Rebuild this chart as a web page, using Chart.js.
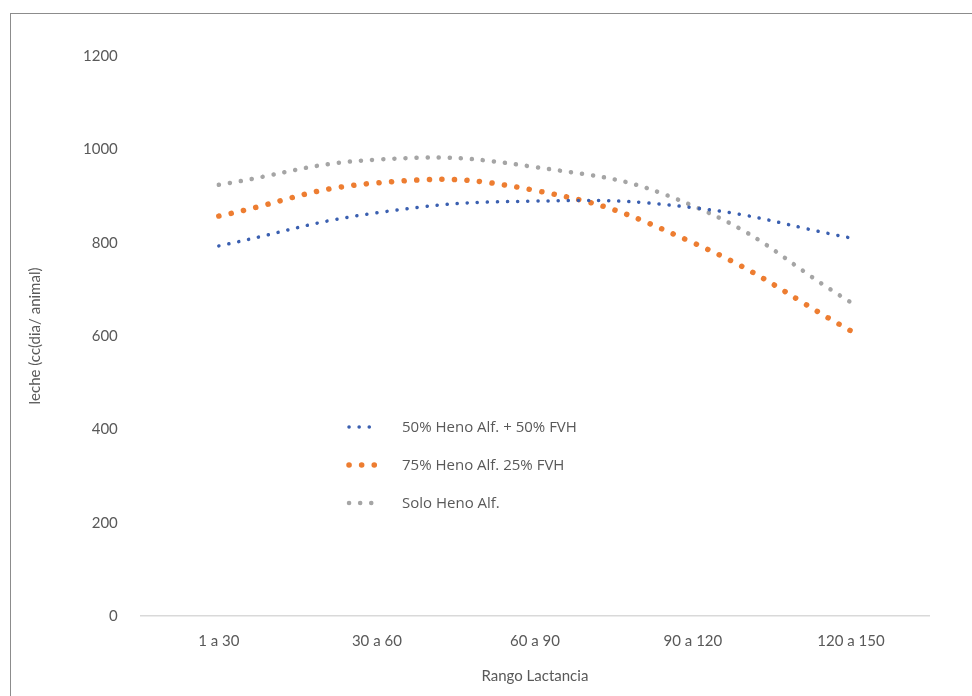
<!DOCTYPE html>
<html>
<head>
<meta charset="utf-8">
<script src="https://cdn.jsdelivr.net/npm/chart.js@4"></script>
<style>
  html, body { margin: 0; padding: 0; background: #fff; }
  #frame { position: absolute; left: 10px; top: 13px; width: 1000px; height: 720px; border: 1px solid #8c8c8c; }
  #wrap { position: absolute; left: 0; top: 0; width: 972px; height: 696px; }
</style>
</head>
<body>
<div id="frame"></div>
<div id="wrap"><canvas id="lecheChart"></canvas></div>
<script>
// rangos de lactancia y leche (cc/dia/animal)
const rangos = ['1 a 30', '30 a 60', '60 a 90', '90 a 120', '120 a 150'];
const mezcla50 = [793, 864, 889, 875, 810];
const mezcla75 = [857, 928, 912, 800, 611];
const soloHeno = [924, 978, 962, 879, 672];
const yTicks = [0, 200, 400, 600, 800, 1000, 1200];

const series = [
    { label: '50% Heno Alf. + 50% FVH', data: mezcla50, color: '#3a5fb0', width: 3.5, gap: 10 },
    { label: '75% Heno Alf. 25% FVH', data: mezcla75, color: '#ed7d31', width: 5.5, gap: 12.5 },
    { label: 'Solo Heno Alf.', data: soloHeno, color: '#a5a5a5', width: 4.5, gap: 11 }
];

// leyenda dibujada dentro del area del grafico
const innerLegend = {
    id: 'innerLegend',
    afterDraw(chart) {
        const ctx = chart.ctx;
        const x0 = 349, y0 = 427, step = 38;
        ctx.save();
        series.forEach((s, i) => {
            const y = y0 + i * step;
            ctx.strokeStyle = s.color;
            ctx.lineWidth = s.width;
            ctx.lineCap = 'round';
            ctx.setLineDash([0.1, s.gap]);
            ctx.beginPath();
            ctx.moveTo(x0, y);
            ctx.lineTo(x0 + 28, y);
            ctx.stroke();
            ctx.setLineDash([]);
            ctx.fillStyle = '#595959';
            ctx.font = '15px "Open Sans"';
            ctx.textBaseline = 'middle';
            ctx.fillText(s.label, x0 + 53, y + 1);
        });
        ctx.restore();
    }
};

const graph = document.getElementById('lecheChart').getContext('2d');

new Chart(graph, {
    type: 'line',
    data: {
        labels: rangos,
        datasets: series.map(s => ({
            label: s.label,
            data: s.data,
            borderColor: s.color,
            backgroundColor: s.color,
            borderWidth: s.width,
            borderDash: [0.1, s.gap],
            borderCapStyle: 'round',
            pointRadius: 0,
            tension: 0.45,
            fill: false
        }))
    },
    options: {
        responsive: true,
        maintainAspectRatio: false,
        animation: false,
        layout: { padding: { left: 26, right: 42, top: 56, bottom: 11 } },
        plugins: {
            legend: { display: false },
            tooltip: { enabled: false }
        },
        scales: {
            x: {
                offset: true,
                grid: { display: false },
                border: { display: false },
                ticks: { color: '#595959', font: { family: 'Lato', size: 15 }, padding: 8 },
                title: {
                    display: true,
                    text: 'Rango Lactancia',
                    color: '#595959',
                    font: { family: 'Lato', size: 15 },
                    padding: { top: 9, bottom: 0 }
                }
            },
            y: {
                min: 0,
                max: 1200,
                afterBuildTicks(axis) { axis.ticks = yTicks.map(v => ({ value: v })); },
                grid: {
                    color: ctx => ctx.tick && ctx.tick.value === 0 ? '#d9d9d9' : 'rgba(0,0,0,0)',
                    drawTicks: false,
                    lineWidth: 1.5
                },
                border: { display: false },
                ticks: {
                    color: '#595959',
                    font: { family: 'Lato', size: 15 },
                    padding: 22,
                    callback: v => String(v)
                },
                title: {
                    display: true,
                    text: 'leche (cc(dia/ animal)',
                    color: '#595959',
                    font: { family: 'Lato', size: 15 },
                    padding: { top: 0, bottom: 17 }
                }
            }
        }
    },
    plugins: [innerLegend]
});
</script>
</body>
</html>
